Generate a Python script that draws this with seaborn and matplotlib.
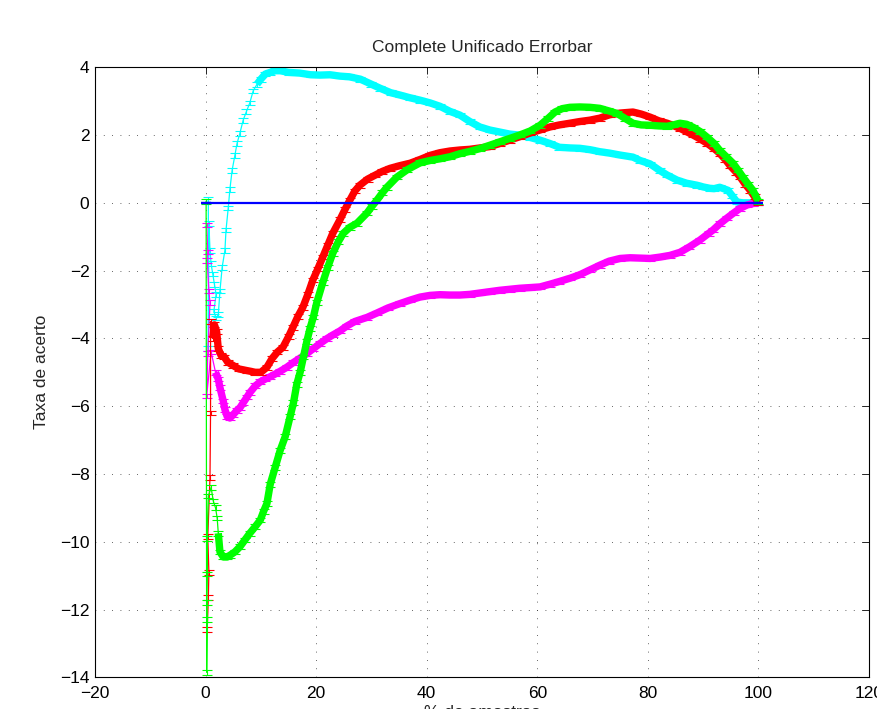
import numpy as np
import pandas as pd
import matplotlib
matplotlib.use("Agg")
import matplotlib.pyplot as plt
import seaborn as sns

# ── valores (x = %, y = taxa de acerto) ──────────────────────────────────────
CYAN_X = [0.5, 0.5, 0.6, 0.8, 1.0, 1.3, 1.6, 1.9, 1.5, 1.9, 2.3, 2.6, 3.0, 3.5, 3.7,
          4.1, 4.4, 4.8, 5.3, 5.7, 6.2, 6.8, 7.4, 8.0, 8.6, 9.3, 10.0, 10.8, 11.7, 12.6,
          13.5, 15.0, 17.0, 19.0, 20.7, 22.5, 24.3, 26.0, 28.0, 30.0, 31.6, 33.5, 35.2,
          37.0, 38.8, 40.6, 42.4, 44.2, 46.0, 47.8, 49.6, 51.4, 53.2, 55.0, 56.8, 58.7,
          60.5, 62.3, 64.0, 66.0, 67.7, 69.5, 71.3, 73.0, 75.0, 77.3, 78.6, 80.4, 82.2,
          83.5, 85.3, 87.0, 88.9, 90.0, 91.2, 92.0, 93.0, 94.5, 95.3, 96.1, 97.0, 98.0,
          99.0, 100.0]
CYAN_Y = [0.1, -4.3, -0.6, -1.4, -1.8, -2.1, -2.4, -2.7, -3.2, -3.4, -3.3, -2.6, -1.9,
          -1.4, -0.8, -0.15, 0.4, 0.96, 1.4, 1.76, 2.05, 2.44, 2.7, 2.95, 3.3, 3.5, 3.65,
          3.8, 3.85, 3.9, 3.9, 3.85, 3.83, 3.78, 3.77, 3.78, 3.74, 3.72, 3.65, 3.5, 3.38,
          3.25, 3.18, 3.1, 3.03, 2.95, 2.85, 2.7, 2.59, 2.4, 2.24, 2.15, 2.09, 2.03, 2.0,
          1.93, 1.85, 1.75, 1.64, 1.62, 1.61, 1.57, 1.51, 1.47, 1.41, 1.35, 1.25, 1.15,
          0.95, 0.82, 0.67, 0.58, 0.52, 0.47, 0.43, 0.42, 0.46, 0.37, 0.2, 0.03, 0.0, 0.0,
          0.0, 0.0]

RED_X = [0.3, 0.5, 0.6, 0.4, 0.8, 0.9, 0.9, 1.3, 1.6, 2.0, 2.3, 2.8, 3.4, 4.0, 5.0,
         6.0, 7.5, 9.0, 10.0, 11.1, 12.0, 13.0, 14.0, 15.0, 15.8, 16.7, 17.6, 18.5, 19.4,
         20.3, 21.2, 22.1, 23.0, 24.3, 25.2, 26.1, 27.0, 27.9, 29.3, 30.7, 32.0, 33.4,
         35.2, 37.0, 38.8, 40.6, 42.4, 44.2, 46.0, 47.8, 49.6, 51.4, 53.2, 55.0, 56.8,
         58.7, 60.5, 62.3, 64.0, 65.9, 67.7, 69.5, 71.3, 73.1, 75.0, 77.3, 78.8, 80.4,
         82.0, 83.5, 85.8, 87.0, 88.2, 89.5, 90.7, 92.0, 93.0, 94.0, 94.8, 96.0, 96.7,
         97.6, 98.5, 99.3, 100.0]
RED_Y = [-12.6, -11.65, -10.9, -9.85, -8.1, -6.2, -3.5, -4.0, -3.6, -3.8, -4.3, -4.5,
         -4.55, -4.7, -4.8, -4.9, -4.95, -5.0, -5.0, -4.85, -4.6, -4.4, -4.26, -3.95,
         -3.67, -3.35, -3.08, -2.7, -2.28, -1.95, -1.6, -1.25, -0.9, -0.5, -0.2, 0.08,
         0.35, 0.52, 0.7, 0.82, 0.93, 1.02, 1.1, 1.17, 1.28, 1.4, 1.48, 1.53, 1.56, 1.58,
         1.62, 1.66, 1.75, 1.85, 1.95, 2.06, 2.15, 2.24, 2.3, 2.35, 2.4, 2.44, 2.5, 2.6,
         2.65, 2.68, 2.62, 2.53, 2.42, 2.35, 2.2, 2.1, 2.0, 1.88, 1.76, 1.6, 1.46, 1.28,
         1.11, 0.9, 0.76, 0.55, 0.37, 0.18, 0.0]

GREEN_X = [0.1, 0.2, 0.3, 0.2, 0.3, 0.3, 0.5, 1.0, 1.4, 1.8, 2.1, 2.3, 2.6, 3.2, 3.9,
           4.4, 5.3, 6.2, 7.1, 8.0, 9.0, 9.9, 10.5, 11.1, 11.7, 12.6, 13.5, 14.4, 15.3,
           15.9, 16.5, 17.1, 17.7, 18.3, 18.9, 19.5, 20.1, 21.2, 22.1, 23.0, 24.0, 24.9,
           26.1, 27.4, 29.2, 30.1, 31.0, 32.0, 32.8, 34.6, 36.5, 38.8, 40.6, 42.4, 44.2,
           46.0, 47.8, 49.6, 51.4, 53.2, 55.0, 56.8, 58.7, 60.5, 62.0, 63.2, 64.5, 65.9,
           67.7, 69.5, 71.3, 72.8, 74.4, 75.8, 77.3, 78.8, 80.4, 82.0, 83.5, 84.6, 85.8,
           87.0, 88.2, 89.5, 90.7, 92.0, 93.0, 94.2, 95.4, 96.3, 97.2, 98.1, 99.0, 100.0]
GREEN_Y = [0.05, -13.85, -12.3, -11.8, -10.95, -9.9, -8.65, -8.4, -8.8, -9.0, -9.3,
           -9.75, -10.3, -10.45, -10.45, -10.4, -10.3, -10.15, -9.95, -9.75, -9.55,
           -9.36, -9.1, -8.87, -8.3, -7.8, -7.3, -6.9, -6.3, -5.9, -5.35, -5.0, -4.55,
           -4.1, -3.7, -3.37, -2.95, -2.35, -1.9, -1.49, -1.15, -0.9, -0.72, -0.6, -0.3,
           -0.1, 0.08, 0.3, 0.46, 0.76, 0.98, 1.18, 1.25, 1.3, 1.36, 1.45, 1.52, 1.6,
           1.7, 1.8, 1.9, 2.0, 2.12, 2.29, 2.5, 2.68, 2.78, 2.82, 2.83, 2.82, 2.79,
           2.72, 2.64, 2.5, 2.35, 2.3, 2.29, 2.27, 2.26, 2.3, 2.35, 2.32, 2.23, 2.1, 1.94,
           1.75, 1.55, 1.36, 1.17, 0.97, 0.76, 0.56, 0.37, 0.05]

MAGENTA_X = [0.2, 0.4, 0.3, 0.6, 0.8, 0.4, 0.2, 1.0, 1.8, 2.3, 2.6, 3.2, 3.5, 3.9,
             4.4, 5.0, 5.7, 6.2, 6.8, 7.5, 8.0, 9.0, 9.9, 10.8, 11.7, 12.6, 13.5, 14.7,
             15.8, 17.1, 18.3, 19.5, 20.7, 22.0, 23.0, 24.3, 25.5, 27.0, 29.2, 31.0, 33.0,
             35.2, 37.0, 38.8, 40.6, 42.4, 44.2, 46.0, 47.8, 49.6, 51.4, 53.2, 55.0, 56.8,
             58.7, 60.5, 62.3, 64.0, 66.0, 67.7, 69.5, 71.3, 73.0, 75.0, 76.8, 78.6, 80.4,
             82.2, 84.0, 85.8, 87.5, 89.4, 91.0, 91.8, 93.0, 94.3, 95.5, 96.7, 98.0, 99.0,
             100.0]
MAGENTA_Y = [-0.65, -1.45, -1.7, -2.6, -2.95, -4.45, -5.7, -4.4, -5.0, -5.2, -5.45,
             -5.85, -6.1, -6.3, -6.35, -6.25, -6.12, -6.05, -5.9, -5.73, -5.6, -5.4,
             -5.28, -5.2, -5.13, -5.05, -4.97, -4.85, -4.72, -4.58, -4.45, -4.3, -4.15,
             -4.0, -3.9, -3.78, -3.64, -3.5, -3.38, -3.25, -3.1, -2.97, -2.87, -2.78,
             -2.73, -2.71, -2.72, -2.72, -2.7, -2.66, -2.62, -2.58, -2.55, -2.52, -2.5,
             -2.48, -2.4, -2.32, -2.22, -2.12, -1.98, -1.84, -1.72, -1.64, -1.62, -1.63,
             -1.64, -1.6, -1.55, -1.46, -1.3, -1.1, -0.9, -0.8, -0.62, -0.45, -0.3, -0.16,
             -0.06, -0.02, 0.0]

BLUE_X = [0, 100]
BLUE_Y = [0, 0]
ERR = 0.07  # meia-altura das barras de erro

TITLE = "Complete Unificado Errorbar"
XLABEL = "% de amostras"
YLABEL = "Taxa de acerto"
XTICKS = [-20, 0, 20, 40, 60, 80, 100, 120]
YTICKS = [-14, -12, -10, -8, -6, -4, -2, 0, 2, 4]

# ── estilo ───────────────────────────────────────────────────────────────────
sns.set_style("white")
plt.rcParams["font.family"] = ["Liberation Sans", "DejaVu Sans"]

COLORS = {"cyan": "#00ffff", "magenta": "#ff00ff", "red": "#ff0000",
          "green": "#00ff00", "blue": "#0000ff"}
BAND_FROM = {"cyan": 9.3, "magenta": 1.8, "red": 1.3, "green": 2.3}

series = [("cyan", CYAN_X, CYAN_Y), ("magenta", MAGENTA_X, MAGENTA_Y),
          ("red", RED_X, RED_Y), ("green", GREEN_X, GREEN_Y)]

fig = plt.figure(figsize=(8.78, 7.09), dpi=100)
ax = fig.add_axes([95 / 878, 1 - 677.3 / 709, 774 / 878, 610 / 709])

for z, (name, xs, ys) in enumerate(series, start=2):
    df = pd.DataFrame({"x": xs, "y": ys})
    col = COLORS[name]
    # linha fina ligando todos os pontos
    sns.lineplot(data=df, x="x", y="y", sort=False, estimator=None, color=col,
                 linewidth=0.9, ax=ax, zorder=z)
    # faixa densa (marcadores sobrepostos na figura original)
    band = df[df["x"] >= BAND_FROM[name]]
    sns.lineplot(data=band, x="x", y="y", sort=False, estimator=None, color=col,
                 linewidth=5.3, ax=ax, zorder=z, solid_capstyle="butt")
    ax.errorbar(df["x"], df["y"], yerr=ERR, fmt="none", ecolor=col,
                elinewidth=0.8, capsize=3.5, capthick=0.8, zorder=z)

ax.errorbar(BLUE_X, BLUE_Y, yerr=0, fmt="-", color=COLORS["blue"], ecolor=COLORS["blue"],
            linewidth=1.6, capsize=3.3, capthick=1.6, zorder=10)

ax.set_xlim(-20, 120)
ax.set_ylim(-14, 4)
ax.set_xticks(XTICKS)
ax.set_yticks(YTICKS)
ax.grid(True, color="0.2", linestyle=(0, (1, 9)), linewidth=0.6)
for s in ax.spines.values():
    s.set_visible(True)
    s.set_color("black")
    s.set_linewidth(0.8)
ax.tick_params(direction="in", top=True, right=True, length=5, width=0.6,
               labelsize=12.5, colors="black")
ax.tick_params(axis="x", pad=6)
ax.tick_params(axis="y", pad=4)

ax.set_title(TITLE, fontsize=12.5, pad=11)
ax.set_xlabel(XLABEL, fontsize=12.5, labelpad=3)
ax.set_ylabel(YLABEL, fontsize=12.5, labelpad=8)

fig.savefig("out.png", dpi=100)
